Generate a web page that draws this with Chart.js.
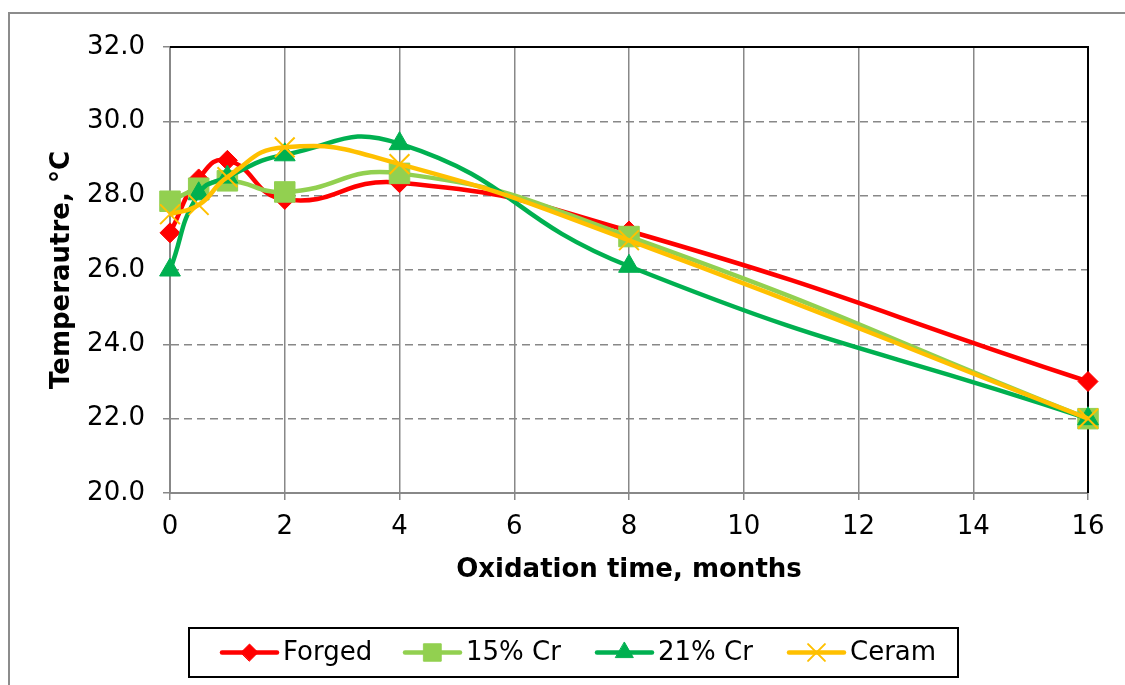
<!DOCTYPE html>
<html>
<head>
<meta charset="utf-8">
<script src="https://cdn.jsdelivr.net/npm/chart.js@4.4.1/dist/chart.umd.min.js"></script>
<style>
  html, body { margin: 0; padding: 0; background: #fff; }
  #wrap { width: 1125px; height: 685px; }
</style>
</head>
<body>
<div id="wrap"><canvas id="chart"></canvas></div>
<script>
// oxidation time (months) and temperatures
const months = [0, 0.5, 1, 2, 4, 8, 16]
const forged = [27.0, 28.45, 28.95, 27.9, 28.35, 27.05, 23.0]
const cr15 = [27.85, 28.2, 28.4, 28.1, 28.6, 26.9, 22.0]
const cr21 = [26.0, 28.05, 28.5, 29.1, 29.4, 26.1, 22.0]
const ceram = [27.5, 27.75, 28.5, 29.3, 28.85, 26.8, 22.0]

const seriesNames = ["Forged", "15% Cr", "21% Cr", "Ceram"]
const seriesColors = ["#FF0000", "#92D050", "#00B050", "#FFC000"]
const seriesMarkers = ["rectRot", "rect", "triangle", "crossRot"]
const markerSizes = [10, 14.5, 12, 14]

const FONT = "'DejaVu Sans', Verdana, sans-serif"

const toPoints = (vals) => months.map((m, i) => ({ x: m, y: vals[i] }))

const datasets = [forged, cr15, cr21, ceram].map((vals, i) => ({
  label: seriesNames[i],
  data: toPoints(vals),
  borderColor: seriesColors[i],
  backgroundColor: seriesColors[i],
  pointBorderColor: seriesColors[i],
  pointBackgroundColor: seriesColors[i],
  pointStyle: seriesMarkers[i],
  pointRadius: markerSizes[i],
  pointBorderWidth: seriesMarkers[i] === "crossRot" ? 2 : 1,
  borderWidth: 4.5,
  tension: 0.5,
  clip: false,
  order: 3 - i
}))

// outer frame + plot area top/right edge
const framePlugin = {
  id: "frame",
  beforeDraw(chart) {
    const ctx = chart.ctx
    ctx.save()
    ctx.fillStyle = "#fff"
    ctx.fillRect(0, 0, chart.width, chart.height)
    ctx.strokeStyle = "#8c8c8c"
    ctx.lineWidth = 2
    ctx.strokeRect(9, 13, chart.width + 20, chart.height + 20)
    ctx.restore()
  },
  beforeDatasetsDraw(chart) {
    const { ctx, chartArea: a } = chart
    ctx.save()
    ctx.strokeStyle = "#000"
    ctx.lineWidth = 2
    ctx.beginPath()
    ctx.moveTo(a.left, a.top)
    ctx.lineTo(a.right, a.top)
    ctx.lineTo(a.right, a.bottom)
    ctx.stroke()
    ctx.restore()
  }
}

// boxed legend with line + marker samples
const legendPlugin = {
  id: "boxLegend",
  afterDraw(chart) {
    const ctx = chart.ctx
    const box = { x: 189, y: 628, w: 769, h: 49 }
    const cy = box.y + box.h / 2
    const starts = [222, 405, 597, 789]
    ctx.save()
    ctx.strokeStyle = "#000"
    ctx.lineWidth = 2
    ctx.strokeRect(box.x, box.y, box.w, box.h)
    ctx.font = "26px " + FONT
    ctx.textBaseline = "middle"
    ctx.fillStyle = "#000"
    chart.data.datasets.forEach((ds, i) => {
      const x0 = starts[i]
      const x1 = x0 + 55
      ctx.strokeStyle = ds.borderColor
      ctx.lineWidth = 4.5
      ctx.lineCap = "round"
      ctx.beginPath()
      ctx.moveTo(x0, cy)
      ctx.lineTo(x1, cy)
      ctx.stroke()
      ctx.fillStyle = ds.pointBackgroundColor
      ctx.strokeStyle = ds.pointBorderColor
      ctx.lineWidth = ds.pointBorderWidth
      Chart.helpers.drawPoint(ctx, {
        pointStyle: ds.pointStyle,
        radius: ds.pointRadius * 0.85,
        rotation: 0,
        borderWidth: ds.pointBorderWidth
      }, (x0 + x1) / 2, cy)
      ctx.fillStyle = "#000"
      ctx.fillText(ds.label, x1 + 6, cy + 1)
    })
    ctx.restore()
  }
}

new Chart(document.getElementById("chart"), {
  type: "line",
  data: { datasets },
  plugins: [framePlugin, legendPlugin],
  options: {
    responsive: true,
    maintainAspectRatio: false,
    animation: false,
    layout: { padding: { left: 43, top: 47, right: 37, bottom: 95 } },
    plugins: {
      legend: { display: false },
      tooltip: { enabled: false }
    },
    scales: {
      x: {
        type: "linear",
        min: 0,
        max: 16,
        afterFit: (s) => { s.height = 97 },
        ticks: {
          stepSize: 2,
          color: "#000",
          padding: 12,
          font: { family: FONT, size: 26 }
        },
        grid: { color: "#888", lineWidth: 1.5, tickLength: 7 },
        border: { color: "#888", width: 2 },
        title: {
          display: true,
          text: "Oxidation time, months",
          color: "#000",
          font: { family: FONT, size: 26, weight: "bold" }
        }
      },
      y: {
        min: 20,
        max: 32,
        afterFit: (s) => { s.width = 127 },
        ticks: {
          stepSize: 2,
          color: "#000",
          padding: 18,
          font: { family: FONT, size: 26 },
          callback: (v) => v.toFixed(1)
        },
        grid: { color: "#888", lineWidth: 1.5, tickLength: 7 },
        border: { color: "#888", width: 2, dash: [8, 5] },
        title: {
          display: true,
          text: "Temperautre, °C",
          color: "#000",
          font: { family: FONT, size: 26, weight: "bold" }
        }
      }
    }
  }
})
</script>
</body>
</html>
